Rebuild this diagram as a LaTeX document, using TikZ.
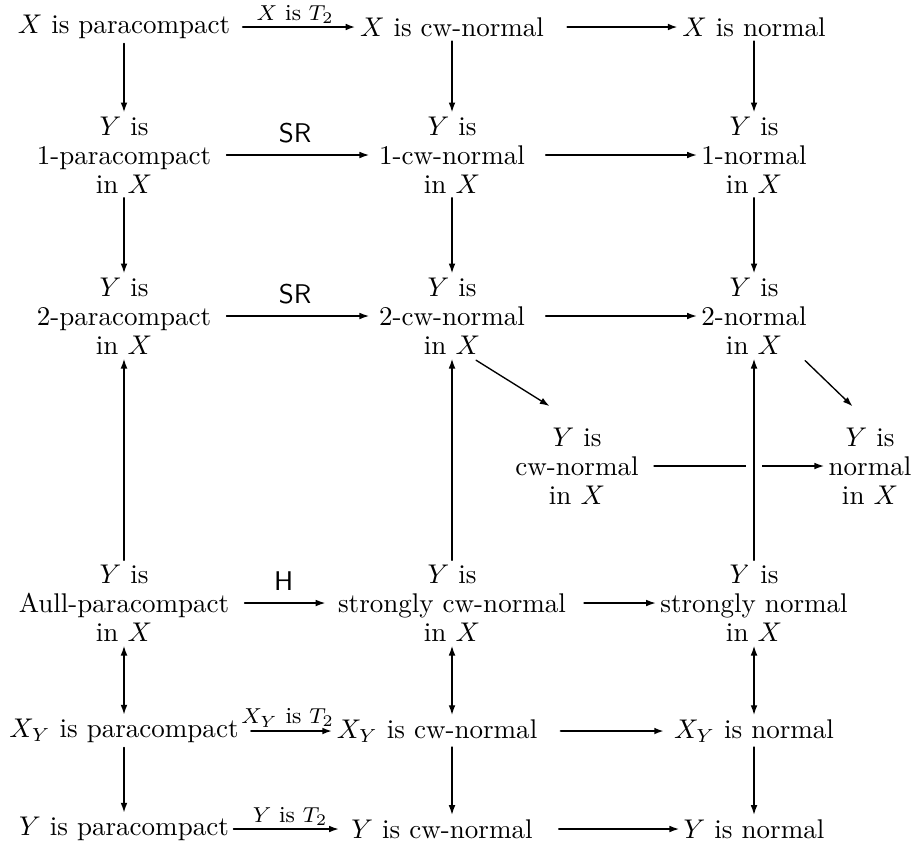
\documentclass[tikz,border=0pt]{standalone}
\usepackage{amsmath,amssymb}
\usepackage{tikz}
\usetikzlibrary{arrows.meta}

\tikzset{
  obj/.style={align=center, inner sep=1.5pt, font=\fontsize{10}{10.7}\selectfont},
  imp/.style={-{Latex[length=3.6pt,width=2.5pt]}, line width=0.5pt},
  thickimp/.style={imp, line width=0.8pt},
  biimp/.style={{Latex[length=3.6pt,width=2.5pt]}-{Latex[length=3.6pt,width=2.5pt]}, line width=0.5pt},
  lab/.style={font=\fontsize{8.5}{9}\selectfont, inner sep=1pt},
  over/.style={preaction={draw=white, line width=6pt}}
}

\begin{document}
\begin{tikzpicture}[x=0.013cm, y=-0.013cm, line cap=round]
  \useasboundingbox (0,0) rectangle (914,845);
  % top row
  \node[obj] (pX)  at (124,27) {$X$ is paracompact};
  \node[obj] (cwX) at (452,27) {$X$ is cw-normal};
  \node[obj] (nX)  at (754,27) {$X$ is normal};
  % 1- and 2- versions
  \node[obj] (p1)  at (124,155) {$Y$ is\\1-paracompact\\in $X$};
  \node[obj] (cw1) at (452,155) {$Y$ is\\1-cw-normal\\in $X$};
  \node[obj] (n1)  at (754,155) {$Y$ is\\1-normal\\in $X$};
  \node[obj] (p2)  at (124,316) {$Y$ is\\2-paracompact\\in $X$};
  \node[obj] (cw2) at (452,316) {$Y$ is\\2-cw-normal\\in $X$};
  \node[obj] (n2)  at (754,316) {$Y$ is\\2-normal\\in $X$};
  \node[obj] (cwY) at (577,466) {$Y$ is\\cw-normal\\in $X$};
  \node[obj] (nY)  at (870,466) {$Y$ is\\normal\\in $X$};
  % strong versions
  \node[obj] (aull) at (124,603) {$Y$ is\\Aull-paracompact\\in $X$};
  \node[obj] (scw)  at (452,603) {$Y$ is\\strongly cw-normal\\in $X$};
  \node[obj] (sn)   at (754,603) {$Y$ is\\strongly normal\\in $X$};
  % subspace rows
  \node[obj] (pXY)  at (124,731) {$X_Y$ is paracompact};
  \node[obj] (cwXY) at (437,731) {$X_Y$ is cw-normal};
  \node[obj] (nXY)  at (754,731) {$X_Y$ is normal};
  \node[obj] (pY)   at (124,829) {$Y$ is paracompact};
  \node[obj] (cwYY) at (442,829) {$Y$ is cw-normal};
  \node[obj] (nYY)  at (754,829) {$Y$ is normal};

  \draw[thickimp, shorten <=3pt] (pX) -- node[lab, above] {$X$ is $T_2$} (cwX);
  \draw[thickimp, shorten <=7pt] (cwX) -- (nX);
  \draw[imp, shorten <=4pt, shorten >=2pt] (p1) -- node[above=1pt] {\textsf{SR}} (cw1);
  \draw[imp, shorten <=6pt] (cw1) -- (n1);
  \draw[imp, shorten <=4pt, shorten >=2pt] (p2) -- node[above=1pt] {\textsf{SR}} (cw2);
  \draw[imp, shorten <=6pt] (cw2) -- (n2);
  \draw[imp, shorten <=4pt] (cwY) -- (nY);
  \draw[imp, shorten <=4pt, shorten >=3pt] (aull) -- node[above=1pt] {\textsf{H}} (scw);
  \draw[imp, shorten <=5pt] (scw) -- (sn);
  \draw[thickimp, shorten <=3pt] (pXY) -- node[lab, above] {$X_Y$ is $T_2$} (cwXY);
  \draw[thickimp, shorten <=7pt, shorten >=2pt] (cwXY) -- (nXY);
  \draw[imp, shorten >=3pt] (pY) -- node[lab, above] {$Y$ is $T_2$} (cwYY);
  \draw[imp, shorten <=8pt] (cwYY) -- (nYY);

  \draw[imp] (pX) -- (p1);
  \draw[imp] (cwX) -- (cw1);
  \draw[imp] (nX) -- (n1);
  \draw[imp] (p1) -- (p2);
  \draw[imp] (cw1) -- (cw2);
  \draw[imp] (n1) -- (n2);
  \draw[imp] (aull) -- (p2);
  \draw[imp] (scw) -- (cw2);
  \draw[imp, over] (sn) -- (n2);
  \draw[imp, shorten <=1pt, shorten >=12pt] (cw2.-63) -- (cwY.north);
  \draw[imp, shorten <=1pt, shorten >=9pt] (n2.-41) -- (nY.north);

  \draw[biimp] (aull) -- (pXY);
  \draw[biimp] (scw) -- (scw |- cwXY.north);
  \draw[biimp] (sn) -- (nXY);
  \draw[imp] (pXY) -- (pY);
  \draw[imp] (scw |- cwXY.south) -- (scw |- cwYY.north);
  \draw[imp] (nXY) -- (nYY);
\end{tikzpicture}
\end{document}
